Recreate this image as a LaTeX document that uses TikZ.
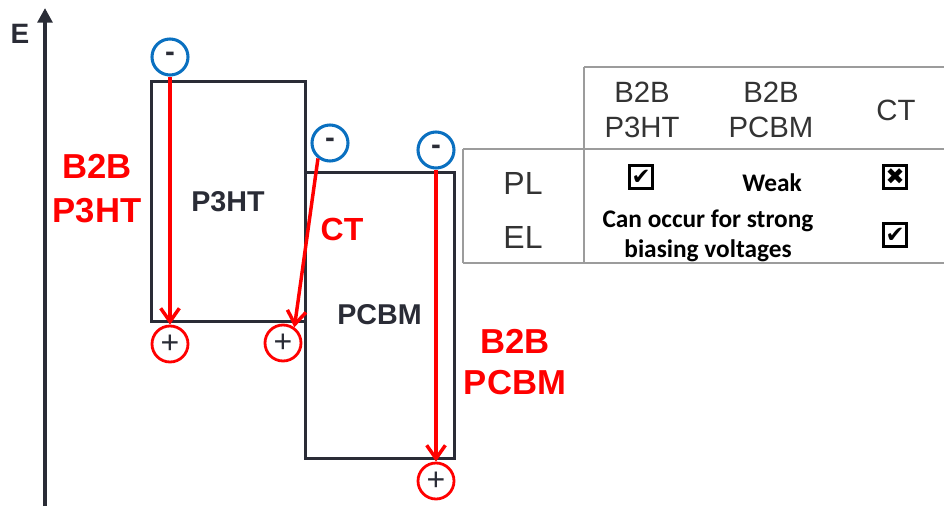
\documentclass[tikz,border=0pt]{standalone}
\usepackage{fontspec}
\setmainfont{Liberation Sans}
\newfontfamily\carlfont{Carlito}
\newfontfamily\djvfont{DejaVu Sans}
\usetikzlibrary{arrows.meta}
\definecolor{dk}{HTML}{2A2C36}
\definecolor{rd}{HTML}{FF0000}
\definecolor{bl}{HTML}{0A70C0}
\definecolor{gr}{HTML}{9C9C9C}
\definecolor{tx}{HTML}{333333}
\tikzset{
  bandbox/.style={draw=dk, line width=2.25pt, inner sep=0pt, text=dk,
    font=\bfseries\fontsize{21.5}{25}\selectfont},
  minuscirc/.style={circle, draw=bl, line width=2.3pt, minimum size=27pt, inner sep=0pt,
    text=dk, font=\bfseries\fontsize{22}{24}\selectfont},
  pluscirc/.style={circle, draw=rd, line width=2.1pt, minimum size=27pt, inner sep=0pt,
    text=dk, font=\fontsize{24}{26}\selectfont},
  trans/.style={draw=rd, line width=2.6pt, -{Straight Barb[length=10pt,width=14pt,line width=2.6pt]}},
  redlab/.style={text=rd, align=center, font=\bfseries\fontsize{26}{31}\selectfont},
  tline/.style={draw=gr, line width=1.2pt},
  thead/.style={text=tx, align=center, font=\fontsize{22}{26}\selectfont},
  rowhead/.style={text=tx, font=\fontsize{24}{26}\selectfont},
  tbold/.style={text=black, align=center, font=\carlfont\bfseries\fontsize{19}{22}\selectfont},
  tickbox/.style={draw=black, line width=2.4pt, minimum size=17.5pt, inner sep=0pt,
    text=black, font=\djvfont\fontsize{17}{17}\selectfont}
}
\begin{document}
\begin{tikzpicture}[x=0.75pt,y=-0.75pt]
\useasboundingbox (0,0) rectangle (944,506);
% axis
\coordinate (ax0) at (45,506);
\coordinate (ax1) at (45,8);
\draw[dk, line width=3pt, -{Triangle[length=11pt,width=11pt]}] (ax0) -- (ax1);
\node[text=dk, font=\bfseries\fontsize{21}{24}\selectfont] (E) at (20,34) {E};
% bands
\node[bandbox, minimum width=115.5pt, minimum height=179.25pt] (p3ht) at (228,201.5) {P3HT};
\node[bandbox, minimum width=111.75pt, minimum height=214.5pt] (pcbm) at (379.5,315) {PCBM};
% carriers
\node[minuscirc] (m1) at (170,57) {-};
\node[minuscirc] (m2) at (330,143) {-};
\node[minuscirc] (m3) at (436,150) {-};
\node[pluscirc] (p1) at (170,344) {+};
\node[pluscirc] (p2) at (283,343) {+};
\node[pluscirc] (p3) at (436,481) {+};
\draw[trans] (m1.south) -- (p1.north);
\draw[trans] (m2.232) -- (p2.54);
\draw[trans] (m3.south) -- (p3.north);
% red labels
\node[redlab, font=\bfseries\fontsize{26}{33}\selectfont] (l1) at (97,189) {B2B\\P3HT};
\node[redlab, font=\bfseries\fontsize{24}{28}\selectfont] (l2) at (342,229) {CT};
\node[redlab] (l3) at (515,362) {B2B\\PCBM};
% table
\coordinate (t1) at (584,67);
\coordinate (t2) at (944,67);
\coordinate (t3) at (584,263);
\coordinate (t4) at (463,149);
\coordinate (t5) at (944,149);
\coordinate (t6) at (463,263);
\coordinate (t7) at (944,263);
\draw[tline] (t1) -- (t2);
\draw[tline] (t1) -- (t3);
\draw[tline] (t4) -- (t5);
\draw[tline] (t4) -- (t6);
\draw[tline] (t6) -- (t7);
\node[thead] (h1) at (642,110) {B2B\\P3HT};
\node[thead] (h2) at (771,110) {B2B\\PCBM};
\node[thead] (h3) at (896,110) {CT};
\node[rowhead] (rPL) at (523,183) {PL};
\node[rowhead] (rEL) at (523,237) {EL};
\node[tickbox] (c1) at (641,177) {✔};
\node[tbold] (wk) at (772,183) {Weak};
\node[tickbox] (c2) at (895,177) {✖};
\node[tbold] (cn) at (708,236) {Can occur for strong\\biasing voltages};
\node[tickbox] (c3) at (895,235) {✔};
\end{tikzpicture}
\end{document}
